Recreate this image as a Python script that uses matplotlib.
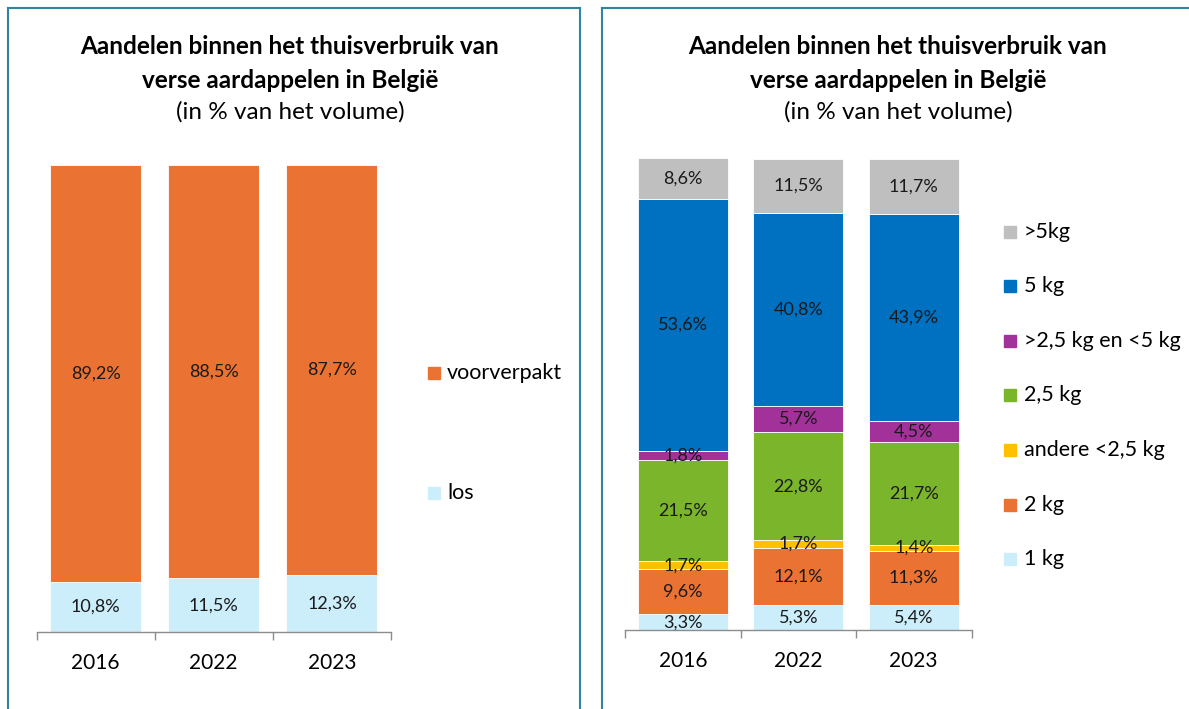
import matplotlib.pyplot as plt
import numpy as np
from matplotlib.patches import Rectangle
from matplotlib.lines import Line2D

plt.rcParams['font.family'] = ['Lato', 'DejaVu Sans']

W, H = 1189, 709

# data
years = ['2016', '2022', '2023']

left_labels = ['los', 'voorverpakt']
los = [10.8, 11.5, 12.3]
voorverpakt = [89.2, 88.5, 87.7]

right_labels = ['1 kg', '2 kg', 'andere <2,5 kg', '2,5 kg',
                '>2,5 kg en <5 kg', '5 kg', '>5kg']
kg1 = [3.3, 5.3, 5.4]
kg2 = [9.6, 12.1, 11.3]
andere = [1.7, 1.7, 1.4]
kg25 = [21.5, 22.8, 21.7]
kg25_5 = [1.8, 5.7, 4.5]
kg5 = [53.6, 40.8, 43.9]
kg5plus = [8.6, 11.5, 11.7]

c_orange = '#EA7334'
c_lblue = '#CCEEFB'
c_yellow = '#FFC000'
c_green = '#7AB52C'
c_purple = '#A2329A'
c_blue = '#0070C0'
c_grey = '#BFBFBF'
border = '#31849B'


def px_axes(fig, x0, y0, x1, y1):
    # pixel box (top-left origin) -> figure fraction
    return fig.add_axes([x0 / W, 1 - y1 / H, (x1 - x0) / W, (y1 - y0) / H])


def style_axis(ax):
    for s in ['top', 'right', 'left']:
        ax.spines[s].set_visible(False)
    ax.spines['bottom'].set_color('#8C8C8C')
    ax.spines['bottom'].set_linewidth(1.0)
    ax.set_yticks([])
    ax.set_xlim(-0.5, 2.5)
    ax.set_xticks(range(3))
    ax.set_xticklabels(years, fontsize=15)
    ax.tick_params(axis='x', which='major', length=0, pad=15)
    ax.set_xticks([-0.5, 0.5, 1.5, 2.5], minor=True)
    ax.tick_params(axis='x', which='minor', length=6, width=1.0,
                   color='#8C8C8C', direction='out')


def stack(ax, series, colors, width):
    x = np.arange(len(years))
    bottom = np.zeros(len(years))
    for vals, col in zip(series, colors):
        vals = np.array(vals)
        ax.bar(x, vals, width, bottom=bottom, color=col,
               edgecolor='white', linewidth=0.6)
        for xi, b, v in zip(x, bottom, vals):
            ax.text(xi, b + v / 2, f'{v:.1f}%'.replace('.', ','),
                    ha='center', va='center', fontsize=13, color='#1a1a1a')
        bottom += vals


fig = plt.figure(figsize=(W / 100, H / 100), dpi=100)

# panel borders
fig.add_artist(Line2D([8 / W, 8 / W], [0, 1 - 8 / H], color=border, lw=1.5))
fig.add_artist(Line2D([580 / W, 580 / W], [0, 1 - 8 / H], color=border, lw=1.5))
fig.add_artist(Line2D([8 / W, 580 / W], [1 - 8 / H, 1 - 8 / H], color=border, lw=1.5))
fig.add_artist(Line2D([602 / W, 602 / W], [0, 1 - 8 / H], color=border, lw=1.5))
fig.add_artist(Line2D([602 / W, 1], [1 - 8 / H, 1 - 8 / H], color=border, lw=1.5))

# titles
for cx in [290, 898]:
    fig.text(cx / W, 1 - 47 / H, 'Aandelen binnen het thuisverbruik van',
             ha='center', va='center', fontsize=17.5, fontweight='bold')
    fig.text(cx / W, 1 - 80 / H, 'verse aardappelen in België',
             ha='center', va='center', fontsize=17.5, fontweight='bold')
    fig.text(cx / W, 1 - 112 / H, '(in % van het volume)',
             ha='center', va='center', fontsize=17.5)

# left chart
ax1 = px_axes(fig, 36.5, 165, 391, 632)
stack(ax1, [los, voorverpakt], [c_lblue, c_orange], 0.77)
ax1.set_ylim(0, 100)
style_axis(ax1)

for lab, col, y in [('voorverpakt', c_orange, 373), ('los', c_lblue, 493)]:
    fig.add_artist(Rectangle((428 / W, 1 - (y + 6) / H), 12 / W, 12 / H,
                             color=col, transform=fig.transFigure))
    fig.text(447 / W, 1 - y / H, lab, ha='left', va='center', fontsize=15.5)

# right chart
ax2 = px_axes(fig, 625, 158, 971.5, 630)
stack(ax2, [kg1, kg2, andere, kg25, kg25_5, kg5, kg5plus],
      [c_lblue, c_orange, c_yellow, c_green, c_purple, c_blue, c_grey], 0.78)
ax2.set_ylim(0, 100.1)
style_axis(ax2)

leg_cols = [c_grey, c_blue, c_purple, c_green, c_yellow, c_orange, c_lblue]
leg_y = [232, 286, 341, 395, 450, 505, 559]
for lab, col, y in zip(right_labels[::-1], leg_cols, leg_y):
    fig.add_artist(Rectangle((1004 / W, 1 - (y + 6) / H), 12 / W, 12 / H,
                             color=col, transform=fig.transFigure))
    fig.text(1024 / W, 1 - y / H, lab, ha='left', va='center', fontsize=15.5)

fig.savefig('out.png', dpi=100)
